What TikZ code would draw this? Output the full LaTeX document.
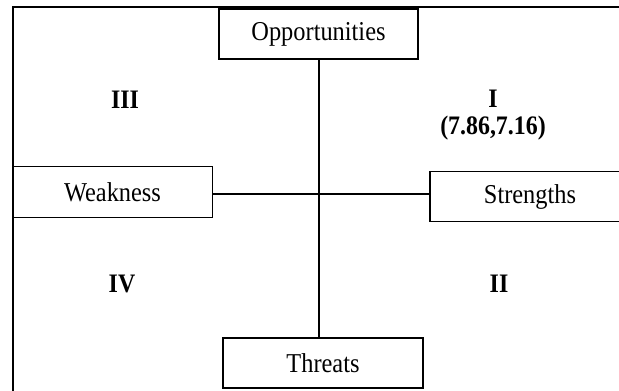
\documentclass[tikz,border=0pt]{standalone}
\usepackage{fontspec}
\usepackage{graphicx}
\setmainfont{Liberation Serif}
\newcommand{\vstretch}[1]{\scalebox{1.02}[1.14]{#1}}
\begin{document}
\begin{tikzpicture}[x=1bp,y=-1bp,
  swotbox/.style={draw,line width=1.6bp,inner sep=0pt,minimum width=200bp,minimum height=50bp,font=\fontsize{24}{28}\selectfont},
  quad/.style={font=\fontsize{23.5}{28}\selectfont\bfseries,inner sep=0pt,align=center},
  axis/.style={line width=2.4bp}]
\clip (0,0) rectangle (619,390);
\fill[white] (0,0) rectangle (619,390);
\draw[line width=1.5bp] (13,420) -- (13,7) -- (640,7);
\node[swotbox,minimum width=199bp] (opp) at (318.5,34) {\vstretch{Opportunities}};
\node[swotbox,minimum height=51bp] (weak) at (112.5,192) {\vstretch{Weakness}};
\node[swotbox] (str) at (530,196.5) {\vstretch{Strengths}};
\node[swotbox] (thr) at (323,363) {\vstretch{Threats}};
\coordinate (c) at (319,194);
\draw[axis] (c |- opp.south) -- (c |- thr.north);
\draw[axis] (weak.east |- c) -- (str.west |- c);
\node[quad] (q3) at (125,100) {\vstretch{III}};
\node[quad] (q1) at (493,99) {\vstretch{I}};
\node[quad] (q1v) at (493,128) {\vstretch{(7.86,7.16)}};
\node[quad] (q4) at (122,284) {\vstretch{IV}};
\node[quad] (q2) at (499,284) {\vstretch{II}};
\end{tikzpicture}
\end{document}
